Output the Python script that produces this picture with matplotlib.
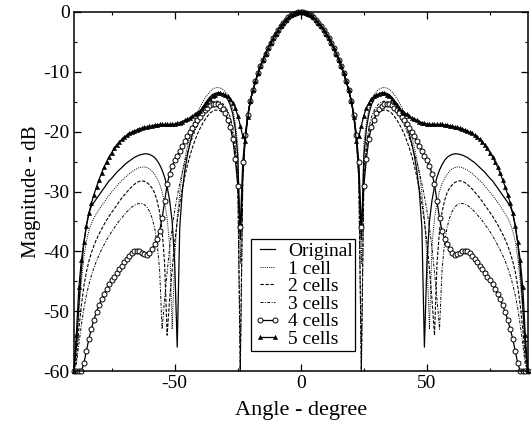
import matplotlib
matplotlib.use("Agg")
import matplotlib.pyplot as plt
import numpy as np
from matplotlib.ticker import MultipleLocator

# sampled angles (degrees) for the positive half; the pattern is mirrored about 0
ANGLES = np.arange(0, 91)

# main lobe shared by every curve, 0..20 deg
MAIN_LOBE = [0, -0.04, -0.15, -0.33, -0.58, -0.9, -1.3, -1.78, -2.33, -2.95, -3.6,
             -4.35, -5.15, -6.0, -6.95, -7.95, -9.05, -10.25, -11.6, -13.1, -14.8]

# 21..90 deg for each curve
ORIGINAL = [-17.2, -20.5, -27, -38, -24, -19.5, -17.0, -15.5, -14.6, -14.0,
            -13.7, -13.5, -13.5, -13.6, -13.8, -14.2, -14.7, -15.3, -16.0, -16.8,
            -17.8, -19.0, -20.4, -22.0, -24.0, -26.5, -30.0, -36, -56, -42,
            -35, -31.5, -29.2, -27.6, -26.4, -25.5, -24.8, -24.3, -24.0, -23.8,
            -23.7, -23.7, -23.8, -23.9, -24.1, -24.3, -24.6, -24.9, -25.2, -25.6,
            -26.0, -26.4, -26.8, -27.3, -27.8, -28.2, -28.8, -29.4, -30.0, -30.6,
            -31.2, -31.8, -32.4, -33.6, -35.5, -38.5, -43, -49, -56, -60]
CELLS_1 = [-17.2, -21, -27, -42, -22, -18.5, -16.2, -14.8, -13.9, -13.3,
           -12.9, -12.7, -12.6, -12.7, -12.9, -13.3, -13.8, -14.4, -15.1, -15.9,
           -16.9, -18.0, -19.3, -20.8, -22.6, -24.6, -27.0, -30.2, -34.5, -41,
           -53, -39, -34.5, -31.8, -30.0, -28.7, -27.8, -27.1, -26.6, -26.2,
           -26.0, -25.9, -25.9, -26.0, -26.2, -26.4, -26.7, -27.0, -27.4, -27.8,
           -28.2, -28.6, -29.1, -29.6, -30.1, -30.6, -31.2, -31.8, -32.4, -33.0,
           -33.7, -34.4, -35.3, -36.5, -38.3, -41.0, -45, -50, -56, -60]
CELLS_2 = [-17.2, -21, -28, -60, -28, -23, -20.5, -18.9, -17.9, -17.2,
           -16.8, -16.5, -16.4, -16.4, -16.6, -16.9, -17.4, -18.0, -18.7, -19.5,
           -20.4, -21.5, -22.7, -24.1, -25.7, -27.5, -29.6, -32.0, -35.0, -38.5,
           -43, -48, -54, -42, -36.5, -33.4, -31.5, -30.2, -29.4, -28.9,
           -28.5, -28.3, -28.2, -28.3, -28.5, -28.8, -29.2, -29.6, -30.1, -30.6,
           -31.1, -31.7, -32.3, -32.9, -33.5, -34.1, -34.8, -35.5, -36.3, -37.1,
           -38.0, -39.0, -40.2, -41.6, -43.4, -45.8, -49, -53, -58, -60]
CELLS_3 = [-17.2, -21, -28, -60, -27, -22, -19.3, -17.6, -16.5, -15.8,
           -15.3, -15.0, -14.9, -14.9, -15.1, -15.4, -15.9, -16.5, -17.2, -18.0,
           -18.9, -19.9, -21.0, -22.2, -23.6, -25.1, -26.8, -28.7, -30.8, -33.2,
           -36.0, -39.3, -43.5, -48, -53, -43, -38.5, -36.0, -34.4, -33.3,
           -32.6, -32.2, -32.0, -32.0, -32.1, -32.3, -32.6, -33.0, -33.4, -33.9,
           -34.4, -34.9, -35.5, -36.1, -36.7, -37.4, -38.1, -38.9, -39.7, -40.6,
           -41.6, -42.7, -44.0, -45.5, -47.3, -49.5, -52.3, -55.5, -59, -60]
CELLS_4 = [-17.2, -20.5, -25, -36, -29, -24.5, -21.2, -19.2, -18.0, -16.9,
           -16.2, -15.7, -15.4, -15.3, -15.4, -15.6, -16.0, -16.4, -16.9, -17.5,
           -18.1, -18.7, -19.4, -20.1, -20.8, -21.6, -22.4, -23.2, -24.0, -24.8,
           -25.7, -27.0, -28.8, -31.6, -34.5, -36.6, -37.9, -38.8, -39.6, -40.3,
           -40.6, -40.5, -40.2, -40.0, -39.9, -40.0, -40.3, -40.7, -41.2, -41.8,
           -42.4, -43.0, -43.6, -44.2, -44.8, -45.5, -46.3, -47.1, -48.0, -49.0,
           -50.1, -51.4, -52.9, -54.6, -56.6, -58.7, -60, -60, -60, -60]
CELLS_5 = [-17.5, -21.5, -20.8, -19.0, -17.3, -16.0, -15.2, -14.5, -14.1, -13.8,
           -13.7, -13.6, -13.6, -13.8, -14.1, -14.5, -15.0, -15.6, -16.1, -16.5,
           -16.8, -17.1, -17.4, -17.7, -17.9, -18.1, -18.3, -18.5, -18.6, -18.7,
           -18.8, -18.8, -18.8, -18.8, -18.8, -18.8, -18.9, -18.9, -19.0, -19.1,
           -19.2, -19.3, -19.4, -19.5, -19.7, -19.9, -20.1, -20.3, -20.6, -20.9,
           -21.3, -21.7, -22.2, -22.8, -23.5, -24.2, -25.0, -25.9, -26.9, -28.0,
           -29.2, -30.5, -31.9, -33.6, -35.8, -38.5, -41.5, -46, -54, -60]

LABELS = ["Original", "1 cell", "2 cells", "3 cells", "4 cells", "5 cells"]


def mirrored(tail):
    half = np.array(MAIN_LOBE + tail)
    angles = np.concatenate([-ANGLES[:0:-1], ANGLES])
    values = np.concatenate([half[:0:-1], half])
    return angles, values


plt.rcParams.update({
    "font.family": "serif",
    "font.serif": ["Liberation Serif", "DejaVu Serif"],
    "axes.unicode_minus": False,
    "font.size": 14,
})

fig = plt.figure(figsize=(5.31, 4.28), dpi=100, facecolor="white")
ax = fig.add_axes([0.139, 0.133, 0.855, 0.839])

styles = [
    dict(linestyle="-", linewidth=0.9),
    dict(linestyle=(0, (1, 1.2)), linewidth=0.7),
    dict(linestyle=(0, (3, 1.5)), linewidth=0.8),
    dict(linestyle=(0, (3, 1.5, 1, 1.5)), linewidth=0.7),
    dict(linestyle="-", linewidth=0.9, marker="o", markersize=3.6,
         markerfacecolor="white", markeredgewidth=0.7),
    dict(linestyle="-", linewidth=0.9, marker="^", markersize=3.0,
         markerfacecolor="black", markeredgewidth=0.4),
]
for tail, label, style in zip([ORIGINAL, CELLS_1, CELLS_2, CELLS_3, CELLS_4, CELLS_5],
                              LABELS, styles):
    x, y = mirrored(tail)
    ax.plot(x, y, color="black", label=label, clip_on=False, **style)

ax.set_xlim(-90, 90)
ax.set_ylim(-60, 0)
ax.xaxis.set_major_locator(MultipleLocator(50))
ax.xaxis.set_minor_locator(MultipleLocator(25))
ax.yaxis.set_major_locator(MultipleLocator(10))
ax.yaxis.set_minor_locator(MultipleLocator(5))
ax.tick_params(which="both", direction="in", top=True, right=True, labelsize=14, pad=3)
ax.tick_params(which="major", length=5, width=0.9)
ax.tick_params(which="minor", length=2.5, width=0.8)
for spine in ax.spines.values():
    spine.set_linewidth(1.1)

ax.set_xlabel("Angle - degree", fontsize=16, labelpad=6)
ax.set_ylabel("Magnitude - dB", fontsize=15, labelpad=2)

leg = ax.legend(loc="lower left", bbox_to_anchor=(0.39, 0.056), fontsize=14,
                frameon=True, fancybox=False, edgecolor="black", framealpha=1,
                numpoints=2, handlelength=1.4, handletextpad=0.35,
                labelspacing=0.0, borderpad=0.15, borderaxespad=0)
leg.get_frame().set_linewidth(0.9)

fig.savefig("out.png", dpi=100, facecolor="white")
